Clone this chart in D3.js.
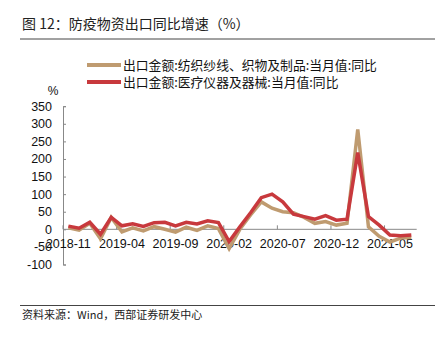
<!DOCTYPE html>
<html>
<head>
<meta charset="utf-8">
<script src="https://cdn.jsdelivr.net/npm/d3@7/dist/d3.min.js"></script>
<style>
  html, body { margin: 0; padding: 0; background: #fff; }
  svg { display: block; }
  .cjk { font-family: "Noto Sans CJK SC", "Noto Sans", sans-serif; }
  .num { font-family: "Liberation Sans", Arial, sans-serif; }
</style>
</head>
<body>
<svg id="chart" width="445" height="350"></svg>
<script>
// Monthly categories, 2018-11 through 2021-07
const months = [
  "2018-11","2018-12","2019-01","2019-02","2019-03","2019-04","2019-05","2019-06",
  "2019-07","2019-08","2019-09","2019-10","2019-11","2019-12","2020-01","2020-02",
  "2020-03","2020-04","2020-05","2020-06","2020-07","2020-08","2020-09","2020-10",
  "2020-11","2020-12","2021-01","2021-02","2021-03","2021-04","2021-05","2021-06",
  "2021-07"
];

// Export value YoY (%), textiles: yarns, fabrics and articles
const textiles = [
  4.5, -2, 17, -27, 34, -7, 4.5, -4.5, 7.5, 0, -8,
  6, -3, 10, 2, -55, 0, 41, 78, 60, 50, 47,
  34, 17, 22, 12, 17, 284, 7, -20, -36, -25, -23
];

// Export value YoY (%), medical instruments and apparatus
const medical = [
  9, 3, 20, -14, 34, 10, 16, 8.5, 19, 20, 10,
  20, 15, 24, 19, -35, 7, 47, 90, 100, 78, 43,
  36, 29, 39, 26, 29, 218, 36, 12, -16, -18, -16
];

const yTicks = [350, 300, 250, 200, 150, 100, 50, 0, -50, -100];
const xTickLabels = ["2018-11","2019-04","2019-09","2020-02","2020-07","2020-12","2021-05"];

const seriesNames = [
  "出口金额:纺织纱线、织物及制品:当月值:同比",
  "出口金额:医疗仪器及器械:当月值:同比"
];
const colors = ["#BF9B70", "#C8393D"];

const svg = d3.select("#chart");

// Title and rules
svg.append("text").attr("class", "cjk")
  .attr("x", 22).attr("y", 29)
  .attr("font-size", 14).attr("fill", "#222")
  .text("图 12：防疫物资出口同比增速（%）");
svg.append("line").attr("x1", 20).attr("x2", 435).attr("y1", 39).attr("y2", 39)
  .attr("stroke", "#444").attr("stroke-width", 1);
svg.append("line").attr("x1", 20).attr("x2", 435).attr("y1", 305.5).attr("y2", 305.5)
  .attr("stroke", "#444").attr("stroke-width", 1);
svg.append("text").attr("class", "cjk")
  .attr("x", 22).attr("y", 319)
  .attr("font-size", 11).attr("fill", "#222")
  .text("资料来源：Wind，西部证券研发中心");

// Scales
const x = d3.scaleBand().domain(months).range([63, 416.7]).padding(0);
const bw = x.bandwidth();
const cx = d => x(d) + bw / 2;
const y = d3.scaleLinear().domain([-100, 350]).range([264.5, 106.2]);

// Y axis
const yAxisG = svg.append("g").attr("transform", "translate(63,0)")
  .call(d3.axisRight(y).tickValues(yTicks).tickSize(3).tickFormat(""));
yAxisG.select(".domain").attr("stroke", "#888");
yAxisG.selectAll(".tick line").attr("stroke", "#888");

svg.append("g").selectAll("text").data(yTicks).join("text")
  .attr("class", "num")
  .attr("x", 52).attr("y", d => y(d))
  .attr("dy", "0.36em")
  .attr("text-anchor", "end")
  .attr("font-size", 12.5).attr("fill", "#111")
  .text(d => d);

svg.append("text").attr("class", "num")
  .attr("x", 53).attr("y", 95)
  .attr("text-anchor", "middle")
  .attr("font-size", 12).attr("fill", "#111")
  .text("%");

// X axis along zero, ticks at category boundaries every five months
const xTickCats = months.filter((m, i) => i % 5 === 0);
const xAxisG = svg.append("g").attr("transform", `translate(0,${y(0)})`)
  .call(d3.axisTop(x).tickValues(xTickCats).tickSize(4).tickFormat("").offset(0));
xAxisG.select(".domain").attr("stroke", "#888").attr("d", `M63,0H416.7`);
xAxisG.selectAll(".tick").attr("transform", d => `translate(${x(d)},0)`);
xAxisG.selectAll(".tick line").attr("stroke", "#888");

svg.append("g").selectAll("text").data(xTickLabels).join("text")
  .attr("class", "num")
  .attr("x", d => cx(d)).attr("y", y(0) + 19)
  .attr("text-anchor", "middle")
  .attr("font-size", 12.5).attr("fill", "#111")
  .text(d => d);

// Lines
const line = d3.line().x((d, i) => cx(months[i])).y(d => y(d));
[textiles, medical].forEach((s, k) => {
  svg.append("path").datum(s)
    .attr("d", line)
    .attr("fill", "none")
    .attr("stroke", colors[k])
    .attr("stroke-width", 3.5)
    .attr("stroke-linejoin", "miter");
});

// Legend
seriesNames.forEach((name, k) => {
  const ly = 65 + k * 17;
  svg.append("line").attr("x1", 87).attr("x2", 121).attr("y1", ly).attr("y2", ly)
    .attr("stroke", colors[k]).attr("stroke-width", 4);
  svg.append("text").attr("class", "cjk")
    .attr("x", 123).attr("y", ly).attr("dy", "0.36em")
    .attr("font-size", 12.8).attr("fill", "#111")
    .text(name);
});
</script>
</body>
</html>
